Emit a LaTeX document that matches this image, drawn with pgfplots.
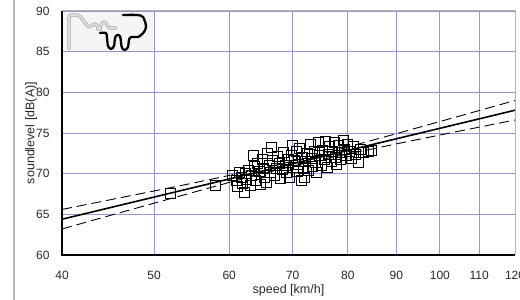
\documentclass[border=0pt]{standalone}
\usepackage{fontspec}
\setmainfont{Liberation Sans}
\usepackage{pgfplots}
\pgfplotsset{compat=1.18}
\definecolor{gridc}{RGB}{150,150,205}
\definecolor{framec}{RGB}{180,180,180}
\definecolor{txt}{RGB}{40,40,40}
\begin{document}
\begin{tikzpicture}
\useasboundingbox (-62pt,-45pt) rectangle (458pt,255pt);
\draw[framec, line width=1.5pt] (-48pt,-45pt) -- (-48pt,255pt);
\fill[black!4] (0pt,203pt) rectangle (92pt,244pt);
\begin{axis}[
  at={(0,0)}, anchor=south west,
  scale only axis, width=453pt, height=244pt,
  xmode=log, xmin=40, xmax=120, ymin=60, ymax=90,
  xtick={40,50,60,70,80,90,100,110,120},
  xticklabels={40,50,60,70,80,90,100,110,120},
  minor xtick={},
  ytick={60,65,70,75,80,85,90},
  grid=major, major grid style={gridc, line width=0.9pt},
  axis line style={draw=none},
  tick style={draw=none},
  /pgf/number format/assume math mode=true,
  ticklabel style={font=\fontsize{12}{14}\selectfont, text=txt},
  xticklabel style={yshift=-12.5pt},
  yticklabel style={xshift=-9pt},
  xlabel={speed [km/h]}, ylabel={soundlevel [dB(A)]},
  label style={font=\fontsize{12.5}{14}\selectfont, text=txt},
  xlabel style={at={(axis description cs:0.5,-0.143)}, anchor=center},
  ylabel style={at={(axis description cs:-0.068,0.5)}, anchor=center},
]
\addplot[only marks, black, mark=square, mark size=5pt, mark options={line width=0.75pt}] coordinates {
(52.0,67.6) (58.0,68.5)
(60.5,69.8) (61.0,69.2) (61.2,68.4) (61.5,70.1) (61.8,69.5) (62.0,68.8) (62.3,67.7) (62.4,70.0)
(62.6,69.3) (62.9,70.4) (63.1,68.6) (63.3,69.8) (63.6,72.3) (63.8,70.9) (64.0,69.2) (64.2,71.3)
(64.5,70.3) (64.7,68.7) (65.0,71.8) (65.2,70.6) (65.4,69.5) (65.6,68.9) (65.9,72.5) (66.1,71.0)
(66.3,70.2) (66.5,73.2) (66.7,71.6) (67.0,69.8) (67.2,70.7) (67.5,72.1) (67.7,71.3) (68.0,69.4)
(68.2,70.5) (68.5,72.6) (68.7,71.0) (69.0,70.2) (69.2,71.8) (69.4,69.6) (69.7,72.3) (69.9,73.5)
(70.1,70.8) (70.3,71.6) (70.6,72.8) (70.8,70.3) (71.0,71.2) (71.2,73.1) (71.4,69.2) (71.6,72.0)
(71.9,70.7) (72.0,69.5) (72.2,71.5) (72.5,72.5) (72.7,70.4) (73.0,73.6) (73.2,71.9) (73.4,70.9)
(73.7,72.7) (74.0,71.4) (74.2,70.1) (74.5,73.8) (74.7,72.2) (75.0,71.0) (75.3,72.9) (75.5,71.8)
(75.8,74.0) (76.1,70.8) (76.3,72.4) (76.6,73.3) (76.8,71.5) (77.1,72.8) (77.4,73.9) (77.6,72.0)
(77.9,71.2) (78.2,73.5) (78.6,71.7) (78.8,72.6) (79.1,74.1) (79.4,73.0) (79.7,72.2) (80.0,73.6)
(80.3,72.7) (80.7,71.9) (81.0,73.3) (81.5,72.4) (82.0,71.4) (82.4,73.0) (83.0,72.6) (84.0,72.7)
(84.8,72.9)
};
\addplot[black, line width=1.6pt] coordinates {(40,64.4) (120,77.8)};
\addplot[black, line width=0.9pt, dash pattern=on 10pt off 5pt] coordinates {
(40,65.60) (45,66.80) (50,67.87) (55,68.85) (60,69.78) (65,70.65) (70,71.53) (75,72.41)
(80,73.28) (90,74.92) (100,76.41) (110,77.76) (120,79.00)};
\addplot[black, line width=0.9pt, dash pattern=on 10pt off 5pt] coordinates {
(40,63.20) (45,64.88) (50,66.37) (55,67.71) (60,68.92) (65,69.99) (70,70.93) (75,71.73)
(80,72.42) (90,73.66) (100,74.75) (110,75.72) (120,76.60)};
\end{axis}
\draw[framec, line width=1pt] (0pt,244pt) -- (453pt,244pt) -- (453pt,0pt);
\draw[black, line width=1.2pt] (0pt,244pt) -- (0pt,0pt) -- (453pt,0pt);
% logo
\begin{scope}[x=1pt, y=1pt]
\draw[gray!70, double=gray!25, double distance=1.8pt, line width=0.7pt, line cap=round, line join=round, rounded corners=2.5pt]
  (7,206) -- (7,240) -- (17,240) -- (27,227) -- (31,231) -- (35,231) -- (36,226) -- (38,226) -- (40,233) -- (44,233) -- (46,227) -- (54,227);
\draw[black, line width=2.3pt, line cap=round, line join=round]
  plot[smooth, tension=0.5] coordinates {(38,222) (44,222) (45,217) (46,209) (49,206) (52,209) (53,217) (55,220) (58,219) (59,213) (60,207) (63,205) (66,208) (67,215) (69,218) (76,218) (82,223) (84,229) (81,238) (75,240) (61,240)};
\end{scope}
\end{tikzpicture}
\end{document}
